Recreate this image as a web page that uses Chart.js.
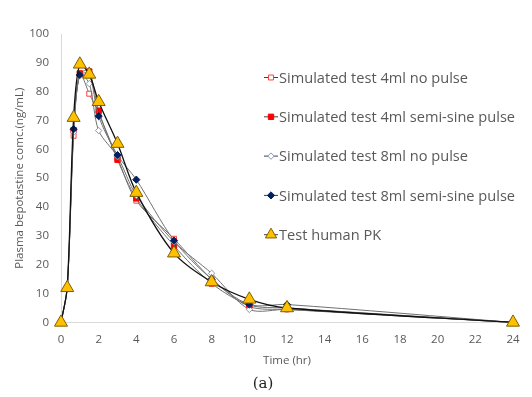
<!DOCTYPE html>
<html>
<head>
<meta charset="utf-8">
<script src="https://cdn.jsdelivr.net/npm/chart.js@4.4.1/dist/chart.umd.min.js"></script>
<style>
  html, body { margin: 0; padding: 0; background: #ffffff; }
  #wrap { width: 532px; height: 397px; }
</style>
</head>
<body>
<div id="wrap"><canvas id="c" width="532" height="397"></canvas></div>
<script>
// Sampling times (hr)
const times = [0, 0.33, 0.67, 1, 1.5, 2, 3, 4, 6, 8, 10, 12, 24];
// Plasma bepotastine concentration (ng/mL)
const sim4NoPulse   = [0, 12, 64.7, 86.3, 79.3, 72.5, 57.0, 42.2, 29.0, 15.0, 5.5, 4.5, 0];
const sim4SemiSine  = [0, 12, 66.7, 86.3, 87.0, 73.4, 56.4, 43.0, 26.6, 13.5, 6.0, 5.0, 0];
const sim8NoPulse   = [0, 12, 66.0, 86.0, 82.8, 66.5, 57.5, 44.0, 28.0, 17.0, 4.5, 4.5, 0];
const sim8SemiSine  = [0, 12, 67.0, 85.8, 86.0, 71.5, 58.0, 49.5, 28.4, 15.0, 6.2, 6.2, 0];
const humanPK       = [0, 12, 71.0, 89.5, 86.0, 76.5, 62.0, 45.0, 24.0, 14.0, 8.0, 5.0, 0];

const seriesNames = [
  'Simulated test 4ml no pulse',
  'Simulated test 4ml semi-sine pulse',
  'Simulated test 8ml no pulse',
  'Simulated test 8ml semi-sine pulse',
  'Test human PK'
];
const xTicks = [0, 2, 4, 6, 8, 10, 12, 14, 16, 18, 20, 22, 24];
const yTicks = [0, 10, 20, 30, 40, 50, 60, 70, 80, 90, 100];

const pts = (arr) => times.map((t, i) => ({ x: t, y: arr[i] }));

const styles = [
  { pointStyle: 'rect', radius: 3.5, bg: '#ffffff', border: '#ff4040', bw: 1, line: '#707070', lw: 1, order: 5 },
  { pointStyle: 'rect', radius: 3.8, bg: '#ff0000', border: '#ff0000', bw: 1, line: '#707070', lw: 1, order: 4 },
  { pointStyle: 'rectRot', radius: 3.2, bg: '#ffffff', border: '#8497b0', bw: 1, line: '#707070', lw: 1, order: 3 },
  { pointStyle: 'rectRot', radius: 3.6, bg: '#002060', border: '#002060', bw: 1, line: '#707070', lw: 1, order: 2 },
  { pointStyle: 'triangle', radius: 7.5, bg: '#ffc000', border: '#7f6000', bw: 1, line: '#111111', lw: 1.3, order: 1 }
];
const values = [sim4NoPulse, sim4SemiSine, sim8NoPulse, sim8SemiSine, humanPK];

const datasets = values.map((v, i) => ({
  label: seriesNames[i],
  data: pts(v),
  borderColor: styles[i].line,
  borderWidth: styles[i].lw,
  backgroundColor: styles[i].bg,
  pointStyle: styles[i].pointStyle,
  pointRadius: styles[i].radius,
  pointBackgroundColor: styles[i].bg,
  pointBorderColor: styles[i].border,
  pointBorderWidth: styles[i].bw,
  tension: 0.3,
  fill: false,
  clip: false,
  order: styles[i].order
}));

const legendPlugin = {
  id: 'customLegend',
  afterDraw(chart) {
    const ctx = chart.ctx;
    const x0 = 264, x1 = 278, xm = 271;
    const y0 = 77.5, dy = 39.3;
    ctx.save();
    seriesNames.forEach((name, i) => {
      const y = y0 + i * dy;
      const s = styles[i];
      ctx.strokeStyle = '#404040';
      ctx.lineWidth = 1;
      ctx.beginPath();
      ctx.moveTo(x0, y);
      ctx.lineTo(x1, y);
      ctx.stroke();
      ctx.fillStyle = s.bg;
      ctx.strokeStyle = s.border;
      ctx.lineWidth = s.bw;
      Chart.helpers.drawPoint(ctx, { pointStyle: s.pointStyle, rotation: 0, radius: s.pointStyle === 'triangle' ? 6.5 : s.radius, borderWidth: s.bw }, xm, y);
      ctx.fillStyle = '#595959';
      ctx.font = '14.6px "Open Sans"';
      ctx.textBaseline = 'middle';
      ctx.textAlign = 'left';
      ctx.fillText(name, 279, y + 1);
    });
    ctx.restore();
  }
};

new Chart(document.getElementById('c'), {
  type: 'line',
  data: { datasets },
  plugins: [legendPlugin],
  options: {
    responsive: false,
    animation: false,
    layout: { padding: { left: 13, right: 19, top: 34, bottom: 4 } },
    plugins: {
      legend: { display: false },
      tooltip: { enabled: false },
      title: {
        display: true,
        position: 'bottom',
        text: '(a)',
        color: '#222222',
        font: { family: '"DejaVu Serif", serif', size: 15, weight: 'normal' },
        padding: { top: 7, bottom: 0 }
      }
    },
    scales: {
      x: {
        type: 'linear',
        min: 0, max: 24,
        afterBuildTicks: (scale) => { scale.ticks = xTicks.map(v => ({ value: v })); },
        afterFit: (scale) => { scale.height -= 7; },
        grid: { display: false, drawTicks: false },
        border: { display: true, color: '#d9d9d9', width: 1 },
        ticks: { color: '#595959', font: { family: '"Open Sans"', size: 11.5 }, padding: 10, maxRotation: 0, autoSkip: false },
        title: { display: true, text: 'Time (hr)', color: '#595959', font: { family: '"Open Sans"', size: 11.5 }, padding: { top: 5, bottom: 0 } }
      },
      y: {
        min: 0, max: 100,
        afterBuildTicks: (scale) => { scale.ticks = yTicks.map(v => ({ value: v })); },
        afterFit: (scale) => { scale.width = 48; },
        grid: { display: false, drawTicks: false },
        border: { display: true, color: '#d9d9d9', width: 1 },
        ticks: { color: '#595959', font: { family: '"Open Sans"', size: 11.5 }, padding: 12 },
        title: { display: true, text: 'Plasma bepotastine comc.(ng/mL)', color: '#595959', font: { family: '"Open Sans"', size: 11.5 }, padding: { top: 0, bottom: 4 } }
      }
    }
  }
});
</script>
</body>
</html>
